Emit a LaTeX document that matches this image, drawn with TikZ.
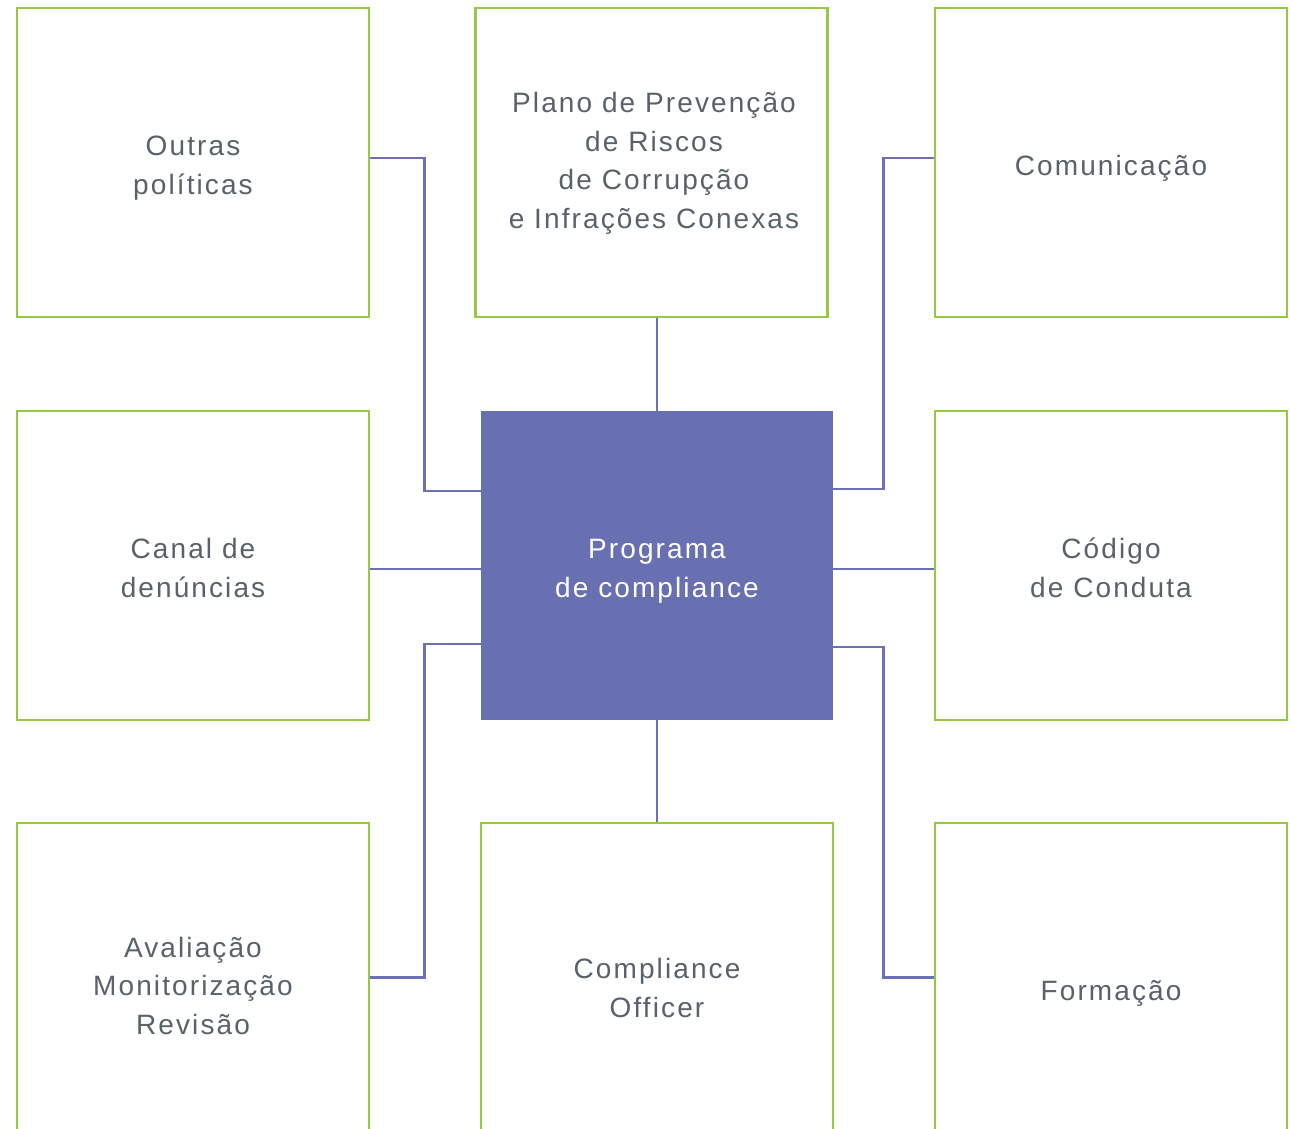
\documentclass[tikz,border=0pt]{standalone}
\usepackage{fontspec}
\setmainfont{Liberation Sans}[LetterSpace=7.5]
\definecolor{boxgreen}{RGB}{150,201,65}
\definecolor{progfill}{RGB}{105,112,178}
\definecolor{linkcol}{RGB}{108,113,182}
\definecolor{txtgrey}{RGB}{88,97,108}
\newcommand\boxtext[3][0pt]{\raisebox{-#2}[\height][\depth]{\begin{tabular}{@{\hspace{#1}}c@{}}#3\end{tabular}}}
\begin{document}
\begin{tikzpicture}[x=1pt,y=-1pt,
  gbox/.style={draw=boxgreen,line width=2.6pt,minimum width=352pt,minimum height=309pt,
    inner sep=0pt,text=txtgrey,font=\fontsize{28}{38.5}\selectfont},
  prog/.style={fill=progfill,minimum width=352pt,minimum height=309pt,inner sep=0pt,
    text=white,font=\fontsize{28}{38.5}\selectfont},
  link/.style={draw=linkcol,line width=2.8pt}]
\useasboundingbox (0,0) rectangle (1290,1128);
\clip (0,0) rectangle (1290,1128);
\node[gbox] (outras) at (193,162.5) {\boxtext{5pt}{Outras\\políticas}};
\node[gbox] (plano) at (651.5,162.5) {\boxtext[5pt]{0.5pt}{Plano de Prevenção\\de Riscos\\de Corrupção\\e Infrações Conexas}};
\node[gbox] (comun) at (1111,162.5) {\boxtext{5.5pt}{Comunicação}};
\node[gbox] (canal) at (193,565.5) {\boxtext{5pt}{Canal de\\denúncias}};
\node[prog] (prog) at (657,565.5) {\boxtext{5pt}{Programa\\de compliance}};
\node[gbox] (codigo) at (1111,565.5) {\boxtext{5pt}{Código\\de Conduta}};
\node[gbox] (aval) at (193,977.5) {\boxtext{10.5pt}{Avaliação\\Monitorização\\Revisão}};
\node[gbox] (officer) at (657,977.5) {\boxtext{13pt}{Compliance\\Officer}};
\node[gbox] (form) at (1111,977.5) {\boxtext{15pt}{Formação}};
\draw[link] ([yshift=4.5pt]outras.east) -- ++(54,0) |- ([yshift=74.5pt]prog.west);
\draw[link] (prog.north) -- (prog.north |- plano.south);
\draw[link] ([yshift=4.5pt]comun.west) -- ++(-50,0) |- ([yshift=76.5pt]prog.east);
\draw[link] ([yshift=-3.5pt]canal.east) -- ([yshift=-3.5pt]prog.west);
\draw[link] ([yshift=-3.5pt]prog.east) -- ([yshift=-3.5pt]codigo.west);
\draw[link] (aval.east) -- ++(54,0) |- ([yshift=-78.5pt]prog.west);
\draw[link] (prog.south) -- (officer.north);
\draw[link] (form.west) -- ++(-50,0) |- ([yshift=-81.5pt]prog.east);
\end{tikzpicture}
\end{document}
